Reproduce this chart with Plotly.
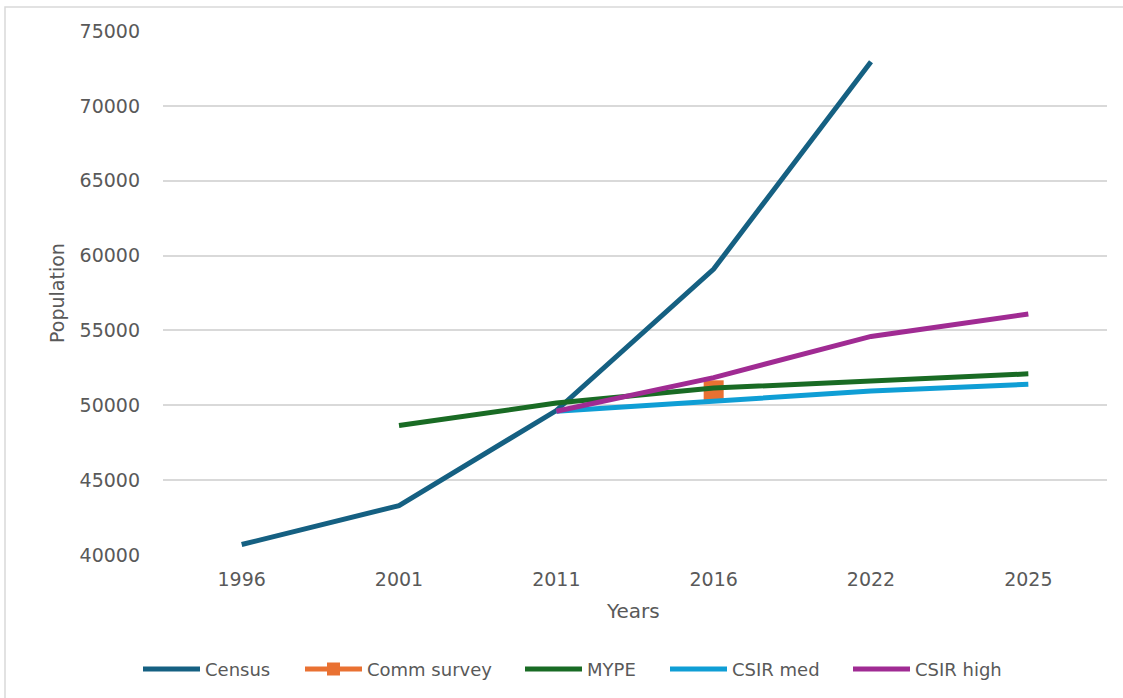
import plotly.graph_objects as go

years = ["1996", "2001", "2011", "2016", "2022", "2025"]
census = [40700, 43300, 49650, 59100, 72950, None]
comm_survey = [None, None, None, 51000, None, None]
mype = [None, 48650, 50150, 51150, 51650, 52100]
csir_med = [None, None, 49600, 50250, 50950, 51400]
csir_high = [None, None, 49600, 51850, 54600, 56100]

series_names = ["Census", "Comm survey", "MYPE", "CSIR med", "CSIR high"]
series_colors = ["#156082", "#E97132", "#196B24", "#0F9ED5", "#A02B93"]

font_family = "DejaVu Sans"
text_color = "#595959"

# plot-area geometry in pixels (used to place the hand-built legend)
PLOT_L, PLOT_R, PLOT_T, PLOT_B = 163, 1107, 31, 555
PW, PH = PLOT_R - PLOT_L, PLOT_B - PLOT_T


def px_x(px):
    return (px - PLOT_L) / PW


def px_y(py):
    return (PLOT_B - py) / PH


fig = go.Figure()
for name, values, color in zip(series_names,
                               [census, comm_survey, mype, csir_med, csir_high],
                               series_colors):
    if name == "Comm survey":
        fig.add_trace(go.Scatter(x=years, y=values, name=name, mode="markers",
                                 marker=dict(symbol="square", size=20, color=color),
                                 showlegend=False))
    else:
        fig.add_trace(go.Scatter(x=years, y=values, name=name, mode="lines",
                                 line=dict(color=color, width=5), showlegend=False))

# legend drawn below the axis: a short line sample followed by the series name
legend_starts = [143, 305, 525, 670, 853]
legend_len = 57
legend_y = 669
shapes = []
annotations = []
for name, color, x0 in zip(series_names, series_colors, legend_starts):
    shapes.append(dict(type="line", xref="paper", yref="paper",
                       x0=px_x(x0), x1=px_x(x0 + legend_len),
                       y0=px_y(legend_y), y1=px_y(legend_y),
                       line=dict(color=color, width=5)))
    if name == "Comm survey":
        cx = x0 + legend_len / 2
        shapes.append(dict(type="rect", xref="paper", yref="paper",
                           x0=px_x(cx - 6.5), x1=px_x(cx + 6.5),
                           y0=px_y(legend_y + 6.5), y1=px_y(legend_y - 6.5),
                           fillcolor=color, line=dict(width=0)))
    annotations.append(dict(text=name, xref="paper", yref="paper",
                            x=px_x(x0 + legend_len + 3), y=px_y(legend_y),
                            xanchor="left", yanchor="middle", showarrow=False,
                            font=dict(size=18, color=text_color)))

annotations += [
    dict(text="Population", xref="paper", yref="paper", x=px_x(57), y=0.5,
         textangle=-90, showarrow=False, xanchor="center", yanchor="middle",
         font=dict(size=19, color=text_color)),
    dict(text="Years", xref="paper", yref="paper", x=px_x(633), y=px_y(611),
         showarrow=False, xanchor="center", yanchor="middle",
         font=dict(size=20, color=text_color)),
]

# chart frame: top and left edges
shapes.append(dict(type="rect", xref="paper", yref="paper",
                   x0=px_x(5), x1=px_x(1135), y0=px_y(710), y1=px_y(7),
                   line=dict(color="#D9D9D9", width=1.5), layer="below"))

fig.update_layout(
    width=1123, height=698,
    margin=dict(l=PLOT_L, r=1123 - PLOT_R, t=PLOT_T, b=698 - PLOT_B),
    paper_bgcolor="white", plot_bgcolor="white",
    font=dict(family=font_family, size=19, color=text_color),
    showlegend=False,
    xaxis=dict(type="category", range=[-0.5, 5.5], showgrid=False, zeroline=False,
               showline=False, ticks="", tickfont=dict(size=19, color=text_color),
               ticklabelstandoff=11),
    yaxis=dict(range=[40000, 75000], dtick=5000, showgrid=True, gridcolor="#D9D9D9",
               gridwidth=1.5, zeroline=False, showline=False, ticks="",
               tickformat="d", tickfont=dict(size=19, color=text_color),
               ticklabelstandoff=22),
    annotations=annotations,
    shapes=shapes,
)

fig.write_html("out.html")
